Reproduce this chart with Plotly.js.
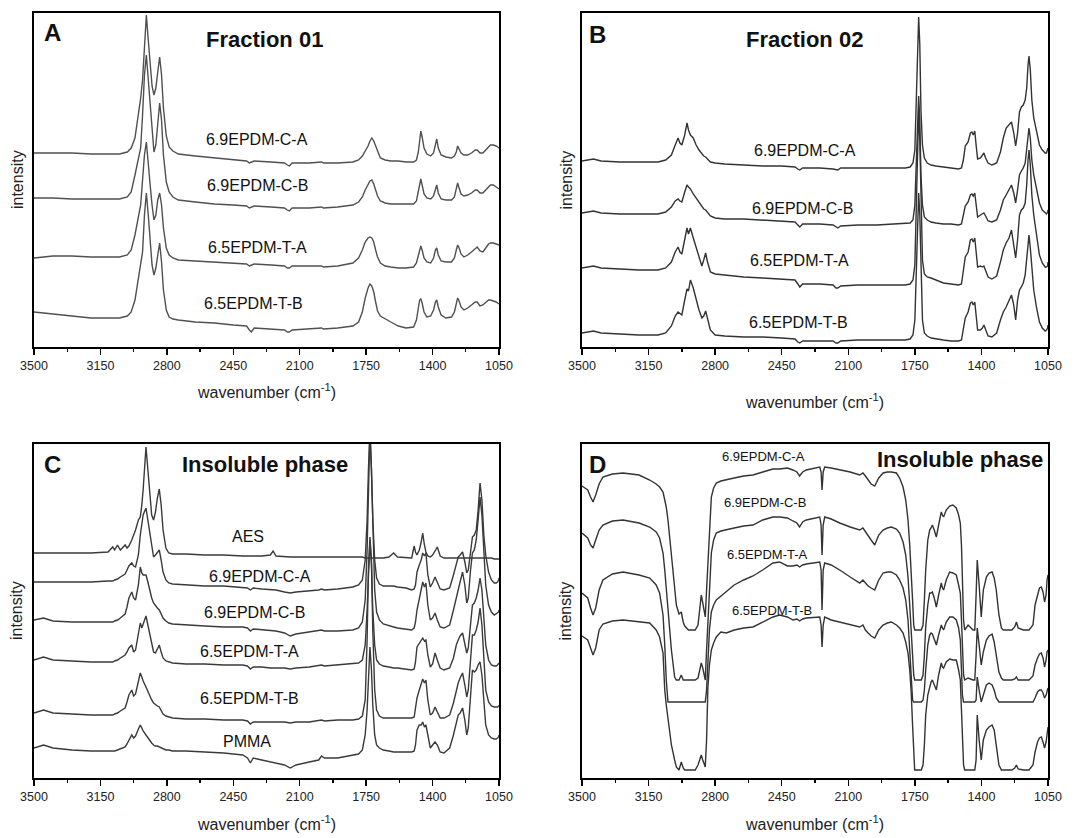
<!DOCTYPE html>
<html>
<head>
<meta charset="utf-8">
<script src="https://cdn.plot.ly/plotly-3.0.1.min.js"></script>
<style>html,body{margin:0;padding:0;background:#fff}#chart{width:1078px;height:838px}</style>
</head>
<body>
<div id="chart"></div>
<script>
// ---------- axis ticks ----------
const TICK_VALS = [3500, 3150, 2800, 2450, 2100, 1750, 1400, 1050];
const TICK_TEXT = ['3500', '3150', '2800', '2450', '2100', '1750', '1400', '1050'];
const MINOR_TICKS = [3325, 2975, 2625, 2275, 1925, 1575, 1225];

// ---------- Panel A : Fraction 01 ----------
const A_NAMES = ['6.9EPDM-C-A', '6.9EPDM-C-B', '6.5EPDM-T-A', '6.5EPDM-T-B'];
const A_WN = [
3500,3400,3300,3200,3100,3050,3008,2988,2968,2948,
2938,2928,2918,2908,2898,2888,2878,2868,2858,2848,
2838,2828,2818,2803,2788,2768,2740,2650,2550,2450,
2380,2365,2355,2340,2250,2180,2165,2155,2140,2050,
1985,1975,1900,1820,1790,1770,1755,1740,1730,1720,
1710,1700,1690,1675,1650,1620,1580,1540,1500,1485,
1475,1468,1462,1455,1445,1430,1410,1395,1385,1378,
1370,1355,1330,1300,1285,1275,1268,1262,1250,1235,
1215,1195,1175,1165,1150,1135,1120,1105,1095,1080,
1065,1050];
const A_CA = [
194,194,194,193,193,193,195,199,209,235,
249,267,302,332,307,279,261,252,259,275,
290,272,239,211,200,196,193,191,189,187,
186,184,185,186,185,184,182,181,184,184,
185,184,184,185,187,191,196,201,206,209,
206,201,195,189,187,186,186,185,185,187,
195,207,216,210,199,193,191,194,203,208,
199,192,190,189,191,195,201,199,194,192,
192,194,197,197,194,194,197,201,202,202,
201,199];
const A_CB = [
149,149,148,148,148,148,150,155,172,192,
199,232,272,292,269,242,217,195,202,222,
244,227,192,165,155,150,147,145,143,142,
141,139,140,141,140,139,137,136,139,139,
140,139,140,142,145,150,157,163,166,167,
163,157,151,146,144,143,143,143,143,146,
155,163,168,162,153,149,148,151,159,162,
154,148,147,147,150,157,164,160,153,151,
152,154,157,157,154,154,157,161,162,162,
160,158];
const A_TA = [
89,91,91,90,90,90,92,97,112,135,
142,167,192,205,187,162,142,127,132,147,
154,142,119,99,92,89,87,86,85,84,
83,81,82,83,82,81,79,79,81,81,
81,80,81,84,89,97,105,109,110,109,
105,97,90,84,81,80,79,79,80,84,
92,98,101,97,89,85,84,89,97,99,
92,86,85,85,89,97,102,100,93,90,
92,95,99,100,96,95,99,103,104,104,
103,102];
const A_TB = [
35,33,31,29,29,29,31,35,47,72,
83,95,132,154,132,102,82,72,79,92,
104,85,57,37,30,28,27,25,24,22,
21,17,15,19,18,17,15,15,17,18,
19,18,19,21,25,35,49,59,63,61,
55,45,36,31,28,25,21,19,20,27,
39,47,48,44,35,30,31,37,45,47,
40,32,29,30,35,43,49,47,40,37,
39,42,45,45,41,42,45,47,47,46,
45,43];

// ---------- Panel B : Fraction 02 ----------
const B_NAMES = ['6.9EPDM-C-A', '6.9EPDM-C-B', '6.5EPDM-T-A', '6.5EPDM-T-B'];
const B_WN = [
3500,3460,3440,3400,3300,3200,3100,3060,3030,3010,
2995,2985,2975,2960,2948,2940,2930,2915,2900,2885,
2870,2860,2850,2840,2825,2800,2750,2650,2550,2450,
2380,2365,2355,2340,2250,2180,2165,2155,2140,2050,
1950,1850,1800,1775,1760,1750,1742,1736,1730,1724,
1718,1710,1700,1685,1665,1640,1600,1560,1520,1505,
1495,1485,1470,1458,1450,1443,1435,1428,1420,1405,
1395,1387,1378,1365,1345,1320,1300,1285,1270,1255,
1242,1230,1220,1210,1200,1190,1180,1170,1162,1155,
1150,1143,1135,1125,1110,1095,1080,1065,1058,1052,
1050];
const B_CA = [
186,187,188,186,185,185,185,187,192,202,
209,204,202,212,224,217,212,209,202,197,
193,191,190,188,185,184,183,182,181,181,
180,178,177,179,179,178,177,177,179,179,
179,179,179,180,184,197,247,302,330,302,
237,202,189,184,182,181,180,179,178,179,
187,201,205,214,215,212,216,202,188,189,
192,194,189,184,182,184,195,209,219,222,
225,214,201,214,235,240,242,247,259,282,
291,277,247,229,215,202,197,194,194,197,
199];
const B_CB = [
134,135,136,134,133,133,133,135,140,146,
148,146,145,155,162,160,158,153,149,144,
140,138,137,135,131,129,128,128,127,126,
125,122,120,123,123,122,120,119,121,122,
122,123,123,124,127,142,187,232,251,227,
172,142,130,127,125,124,123,123,122,123,
131,141,145,152,153,151,154,142,130,132,
133,134,131,126,125,127,137,147,152,157,
162,154,144,157,172,176,179,184,197,212,
219,209,187,172,157,144,137,134,133,135,
137];
const B_TA = [
79,80,81,79,78,77,77,79,85,95,
100,95,93,107,119,113,119,109,100,89,
81,87,94,85,75,73,72,70,69,68,
67,63,60,63,63,62,59,59,61,62,
62,62,62,63,67,82,147,207,237,207,
137,87,73,70,69,67,64,63,62,63,
75,90,95,107,108,105,109,95,80,81,
80,81,77,70,68,71,85,97,104,109,
117,102,89,107,132,137,139,144,162,187,
197,182,152,132,109,92,84,80,80,81,
85];
const B_TB = [
14,15,16,14,13,12,12,14,21,31,
35,33,32,47,58,56,67,59,47,37,
29,31,36,27,17,12,11,10,10,9,
8,5,4,6,6,6,4,4,6,7,
7,7,7,8,12,27,87,132,154,132,
72,27,14,11,9,8,7,6,6,7,
17,29,35,44,45,42,45,32,17,17,
19,22,17,11,10,14,27,35,40,47,
52,42,27,47,57,60,64,72,87,102,
112,99,77,57,39,25,19,16,17,19,
22];

// ---------- Panel C : Insoluble phase ----------
const C_NAMES = ['AES', '6.9EPDM-C-A', '6.9EPDM-C-B', '6.5EPDM-T-A', '6.5EPDM-T-B', 'PMMA'];
const C_WN = [
3500,3450,3400,3300,3200,3110,3085,3075,3060,3045,
3020,3010,3000,2985,2975,2965,2950,2940,2932,2925,
2910,2900,2890,2880,2870,2860,2850,2840,2830,2820,
2805,2790,2770,2700,2600,2500,2400,2375,2360,2345,
2300,2255,2240,2225,2180,2150,2120,2050,2000,1985,
1970,1900,1820,1790,1770,1755,1745,1738,1730,1722,
1715,1705,1695,1680,1660,1630,1605,1585,1540,1510,
1497,1490,1482,1470,1460,1452,1443,1435,1425,1412,
1400,1387,1375,1360,1340,1310,1290,1275,1265,1255,
1242,1230,1220,1212,1200,1190,1180,1170,1160,1150,
1140,1130,1120,1105,1090,1075,1065,1058,1052,1050];
const C_AES = [
225,225,225,225,225,226,231,228,233,228,
233,230,232,238,243,248,258,261,273,288,
331,308,278,263,258,266,280,289,273,248,
230,225,224,224,223,223,222,222,222,222,
222,223,227,222,221,221,221,221,221,221,
221,221,221,221,221,220,220,220,220,220,
220,220,220,220,220,221,225,221,220,220,
232,226,223,228,236,245,233,226,222,221,
223,228,231,222,220,220,220,220,220,220,
220,220,220,220,220,220,220,220,220,220,
220,220,220,220,220,219,219,219,219,219];
const C_CA = [
196,196,196,196,196,197,197,198,199,201,
204,208,212,215,212,211,223,243,253,263,
270,258,243,230,221,223,226,228,218,206,
198,195,194,193,192,192,191,190,188,190,
189,188,188,188,186,185,186,187,188,189,
188,189,191,193,198,218,258,308,348,308,
258,218,200,194,192,192,192,191,190,188,
189,193,206,213,218,225,222,225,203,191,
195,201,195,189,188,190,203,215,221,223,
226,216,205,208,228,241,243,248,268,295,
278,243,223,206,198,195,195,196,198,200];
const C_CB = [
158,160,157,156,156,156,156,157,158,160,
164,171,180,186,180,178,193,211,205,203,
203,196,186,180,175,172,170,168,164,160,
157,155,154,153,152,151,151,150,147,149,
148,147,147,147,145,142,144,146,147,148,
147,147,148,150,156,178,228,288,348,308,
248,188,166,158,154,152,151,150,149,148,
150,156,168,178,186,196,191,195,173,158,
160,165,158,151,150,153,168,181,188,196,
206,193,175,180,208,225,228,238,258,281,
263,223,193,173,166,163,164,165,166,168];
const C_TA = [
118,121,118,117,116,116,116,117,118,120,
123,126,130,133,126,128,143,155,150,154,
162,153,143,133,126,125,130,133,126,120,
117,116,115,114,114,113,113,112,109,111,
111,110,110,110,110,109,110,111,112,113,
112,113,114,115,118,133,168,208,238,213,
168,133,118,114,112,111,110,110,109,108,
109,116,131,135,137,140,137,138,123,111,
114,125,118,110,108,110,120,133,138,142,
145,135,125,130,158,173,175,180,188,200,
188,158,133,118,113,112,112,113,114,115];
const C_TB = [
65,68,65,64,63,63,63,64,65,67,
70,76,83,88,82,84,95,105,101,97,
91,86,81,78,75,73,72,71,67,64,
62,61,60,59,59,58,58,57,54,56,
56,56,56,56,56,55,56,56,57,58,
57,58,58,59,62,78,138,208,241,218,
148,88,68,62,60,60,60,60,60,60,
61,68,80,88,93,99,95,98,78,63,
65,71,66,60,60,63,75,88,95,100,
105,93,81,88,123,143,143,148,156,170,
153,113,88,76,72,71,71,71,72,72];
const C_PMMA = [
30,33,30,28,27,27,27,27,28,29,
31,34,38,43,40,42,49,53,50,47,
43,40,37,35,33,32,32,31,30,29,
28,28,27,27,26,25,23,20,15,20,
18,16,15,15,13,10,13,16,18,22,
20,20,23,24,28,43,68,103,131,108,
73,43,33,30,28,27,26,26,26,26,
27,33,48,53,53,56,51,53,43,30,
33,36,33,26,25,30,43,56,63,65,
70,58,43,50,88,108,106,108,113,116,
103,73,53,43,40,39,39,40,41,43];

// ---------- Panel D : Insoluble phase ----------
const D_NAMES = ['6.9EPDM-C-A', '6.9EPDM-C-B', '6.5EPDM-T-A', '6.5EPDM-T-B'];
const D_WN = [
3500,3470,3455,3442,3428,3410,3390,3340,3284,3200,
3144,3110,3092,3074,3065,3057,3048,3030,3013,3004,
2990,2978,2968,2960,2940,2925,2905,2890,2880,2873,
2865,2858,2852,2845,2838,2830,2820,2808,2794,2770,
2741,2700,2650,2601,2550,2496,2461,2420,2391,2370,
2356,2340,2321,2280,2250,2243,2238,2232,2224,2190,
2145,2090,2040,2023,2010,1996,1980,1961,1940,1917,
1895,1874,1847,1830,1812,1798,1786,1777,1769,1762,
1756,1751,1716,1707,1700,1693,1682,1672,1665,1658,
1648,1637,1625,1611,1605,1599,1585,1567,1550,1532,
1520,1511,1505,1500,1494,1488,1470,1444,1435,1428,
1422,1412,1401,1390,1374,1360,1344,1333,1322,1308,
1295,1285,1278,1240,1225,1216,1207,1180,1150,1129,
1118,1105,1095,1085,1076,1068,1060,1055,1050];
const D_CA = [
292,288,281,276,283,294,301,304,305,303,
298,294,291,286,278,271,258,225,188,173,
164,166,156,152,148,148,148,153,170,183,
175,166,161,188,218,248,281,290,295,297,
298,300,302,303,306,309,309,310,308,306,
302,306,308,310,311,306,288,306,311,310,
308,306,303,305,302,298,294,292,300,305,
306,306,305,300,291,278,258,233,208,178,
153,148,148,153,178,208,238,248,250,253,
248,241,253,266,263,261,268,272,273,270,
263,255,233,198,158,148,153,148,148,183,
218,193,161,188,201,205,206,200,188,163,
150,148,148,148,151,156,150,148,148,153,
173,183,190,191,186,176,183,198,203];
const D_CB = [
245,240,233,230,238,248,253,257,258,255,
251,246,240,225,208,188,171,128,101,98,
98,103,98,98,98,98,98,100,108,115,
110,101,98,128,158,193,225,238,245,247,
248,250,252,253,258,261,261,260,257,255,
251,256,258,260,261,253,223,253,261,259,
255,251,248,250,246,243,238,233,243,248,
250,251,249,245,236,223,201,173,151,123,
103,98,98,103,123,151,173,185,185,186,
180,171,183,195,190,188,198,206,205,203,
193,185,158,128,103,98,100,98,98,123,
150,133,113,126,138,142,144,136,123,106,
100,98,98,98,99,101,98,98,98,102,
113,120,124,125,120,111,118,126,128];
const D_TA = [
185,180,170,163,170,188,198,204,206,203,
200,193,185,163,133,98,76,76,76,76,
76,76,76,76,76,76,76,76,76,76,
76,76,76,88,118,148,166,173,178,182,
186,193,198,202,208,215,216,212,212,213,
211,213,214,215,216,208,168,208,215,213,
208,201,195,198,195,192,190,188,198,205,
206,206,203,198,190,178,158,128,98,78,
76,76,76,78,88,108,133,143,145,144,
138,133,143,153,150,148,156,161,161,158,
150,138,108,83,76,76,76,76,76,78,
101,88,76,83,93,95,93,88,80,76,
76,76,76,76,76,76,76,76,76,76,
80,86,88,88,85,80,83,88,90];
const D_TB = [
142,138,130,123,130,148,154,157,158,156,
155,148,141,125,88,73,58,33,18,11,
8,16,10,8,8,8,8,13,18,23,
18,13,11,38,91,113,128,135,141,146,
145,148,150,151,156,161,163,161,158,159,
157,159,160,161,161,153,131,153,161,158,
156,153,151,153,148,145,142,140,148,153,
155,156,153,150,145,136,125,108,85,53,
25,8,8,13,33,63,83,93,96,98,
93,88,103,115,111,110,116,119,118,118,
108,98,68,33,13,8,8,8,8,18,
63,38,18,38,48,51,53,48,33,13,
8,8,8,8,10,13,9,8,8,13,
26,36,40,41,36,30,36,48,51];

// ---------- build figure ----------
const FONT = 'Arial, "Liberation Sans", Helvetica, sans-serif';
const X_TITLE = 'wavenumber (cm<sup>-1</sup>)';
const Y_TITLE = 'intensity';
function line(x, y, name, xa, ya, color) {
  return {type: 'scatter', mode: 'lines', x: x, y: y, name: name,
          xaxis: xa, yaxis: ya, line: {color: color, width: 1.4}, hoverinfo: 'x+y+name'};
}
const traces = [
  line(A_WN, A_CA, A_NAMES[0], 'x', 'y', '#505050'),
  line(A_WN, A_CB, A_NAMES[1], 'x', 'y', '#505050'),
  line(A_WN, A_TA, A_NAMES[2], 'x', 'y', '#505050'),
  line(A_WN, A_TB, A_NAMES[3], 'x', 'y', '#505050'),
  line(B_WN, B_CA, B_NAMES[0], 'x2', 'y2', '#333'),
  line(B_WN, B_CB, B_NAMES[1], 'x2', 'y2', '#333'),
  line(B_WN, B_TA, B_NAMES[2], 'x2', 'y2', '#333'),
  line(B_WN, B_TB, B_NAMES[3], 'x2', 'y2', '#333'),
  line(C_WN, C_AES, C_NAMES[0], 'x3', 'y3', '#3a3a3a'),
  line(C_WN, C_CA, C_NAMES[1], 'x3', 'y3', '#3a3a3a'),
  line(C_WN, C_CB, C_NAMES[2], 'x3', 'y3', '#3a3a3a'),
  line(C_WN, C_TA, C_NAMES[3], 'x3', 'y3', '#3a3a3a'),
  line(C_WN, C_TB, C_NAMES[4], 'x3', 'y3', '#3a3a3a'),
  line(C_WN, C_PMMA, C_NAMES[5], 'x3', 'y3', '#3a3a3a'),
  line(D_WN, D_CA, D_NAMES[0], 'x4', 'y4', '#333'),
  line(D_WN, D_CB, D_NAMES[1], 'x4', 'y4', '#333'),
  line(D_WN, D_TA, D_NAMES[2], 'x4', 'y4', '#333'),
  line(D_WN, D_TB, D_NAMES[3], 'x4', 'y4', '#333')
];

function xAxis(domain, anchor) {
  return {
    domain: domain, anchor: anchor, range: [3500, 1050], autorange: false,
    tickmode: 'array', tickvals: TICK_VALS, ticktext: TICK_TEXT,
    ticks: 'outside', ticklen: 6, tickwidth: 1.5, tickcolor: '#000',
    minor: {tickmode: 'array', tickvals: MINOR_TICKS, ticks: 'outside', ticklen: 3, tickwidth: 1.3, tickcolor: '#000'},
    showline: true, linecolor: '#000', linewidth: 1.8, mirror: true,
    showgrid: false, zeroline: false, automargin: false,
    tickfont: {family: FONT, size: 12.5, color: '#222'}
  };
}
function yAxis(domain, anchor) {
  return {
    domain: domain, anchor: anchor, range: [0, 334], autorange: false,
    showticklabels: false, ticks: '',
    showline: true, linecolor: '#000', linewidth: 1.8, mirror: true,
    showgrid: false, zeroline: false, automargin: false
  };
}
const XL = [0.03154, 0.46290], XR = [0.53989, 0.97217];
const YT = [0.58592, 0.98449], YB = [0.07160, 0.47017];

function ann(x, y, xref, yref, text, size, bold, xanchor) {
  return {x: x, y: y, xref: xref, yref: yref, text: bold ? '<b>' + text + '</b>' : text,
          showarrow: false, xanchor: xanchor || 'center', yanchor: 'middle',
          font: {family: FONT, size: size, color: '#111'}};
}
function paperText(x, y, text, angle) {
  return {x: x, y: y, xref: 'paper', yref: 'paper', text: text, showarrow: false,
          xanchor: 'center', yanchor: 'middle', textangle: angle || 0,
          font: {family: FONT, size: 16, color: '#222'}};
}
const annotations = [
  // axis titles
  paperText(0.2472, 0.5334, X_TITLE),
  paperText(0.7560, 0.5215, X_TITLE),
  paperText(0.2472, 0.0175, X_TITLE),
  paperText(0.7560, 0.0175, X_TITLE),
  paperText(0.0158, 0.7852, Y_TITLE, -90),
  paperText(0.5246, 0.7852, Y_TITLE, -90),
  paperText(0.0158, 0.2709, Y_TITLE, -90),
  paperText(0.5246, 0.2709, Y_TITLE, -90),

  ann(3405, 314, 'x', 'y', 'A', 24, true),
  ann(2283, 307, 'x', 'y', 'Fraction 01', 22, true),
  ann(2325, 207, 'x', 'y', A_NAMES[0], 16),
  ann(2325, 161, 'x', 'y', A_NAMES[1], 16),
  ann(2325, 99, 'x', 'y', A_NAMES[2], 16),
  ann(2346, 43, 'x', 'y', A_NAMES[3], 16),

  ann(3416, 312, 'x2', 'y2', 'B', 24, true),
  ann(2328, 307, 'x2', 'y2', 'Fraction 02', 22, true),
  ann(2328, 196, 'x2', 'y2', B_NAMES[0], 16),
  ann(2343, 138, 'x2', 'y2', B_NAMES[1], 16),
  ann(2354, 86, 'x2', 'y2', B_NAMES[2], 16),
  ann(2364, 24, 'x2', 'y2', B_NAMES[3], 16),

  ann(3405, 313, 'x3', 'y3', 'C', 24, true),
  ann(2283, 313, 'x3', 'y3', 'Insoluble phase', 22, true),
  ann(2372, 241, 'x3', 'y3', C_NAMES[0], 16),
  ann(2309, 201, 'x3', 'y3', C_NAMES[1], 16),
  ann(2336, 165, 'x3', 'y3', C_NAMES[2], 16),
  ann(2362, 126, 'x3', 'y3', C_NAMES[3], 16),
  ann(2362, 79, 'x3', 'y3', C_NAMES[4], 16),
  ann(2378, 36, 'x3', 'y3', C_NAMES[5], 16),

  ann(3416, 313, 'x4', 'y4', 'D', 24, true),
  ann(1066, 318, 'x4', 'y4', 'Insoluble phase', 22, true, 'right'),
  ann(2548, 321, 'x4', 'y4', D_NAMES[0], 13),
  ann(2538, 275, 'x4', 'y4', D_NAMES[1], 13),
  ann(2527, 223, 'x4', 'y4', D_NAMES[2], 13),
  ann(2501, 167, 'x4', 'y4', D_NAMES[3], 13)
];

const layout = {
  width: 1078, height: 838,
  margin: {l: 0, r: 0, t: 0, b: 0},
  paper_bgcolor: '#fff', plot_bgcolor: '#fff',
  showlegend: false,
  font: {family: FONT, color: '#222'},
  xaxis: xAxis(XL, 'y'), yaxis: yAxis(YT, 'x'),
  xaxis2: xAxis(XR, 'y2'), yaxis2: yAxis(YT, 'x2'),
  xaxis3: xAxis(XL, 'y3'), yaxis3: yAxis(YB, 'x3'),
  xaxis4: xAxis(XR, 'y4'), yaxis4: yAxis(YB, 'x4'),
  annotations: annotations
};

Plotly.newPlot('chart', traces, layout, {displayModeBar: false, staticPlot: true});
</script>
</body>
</html>
